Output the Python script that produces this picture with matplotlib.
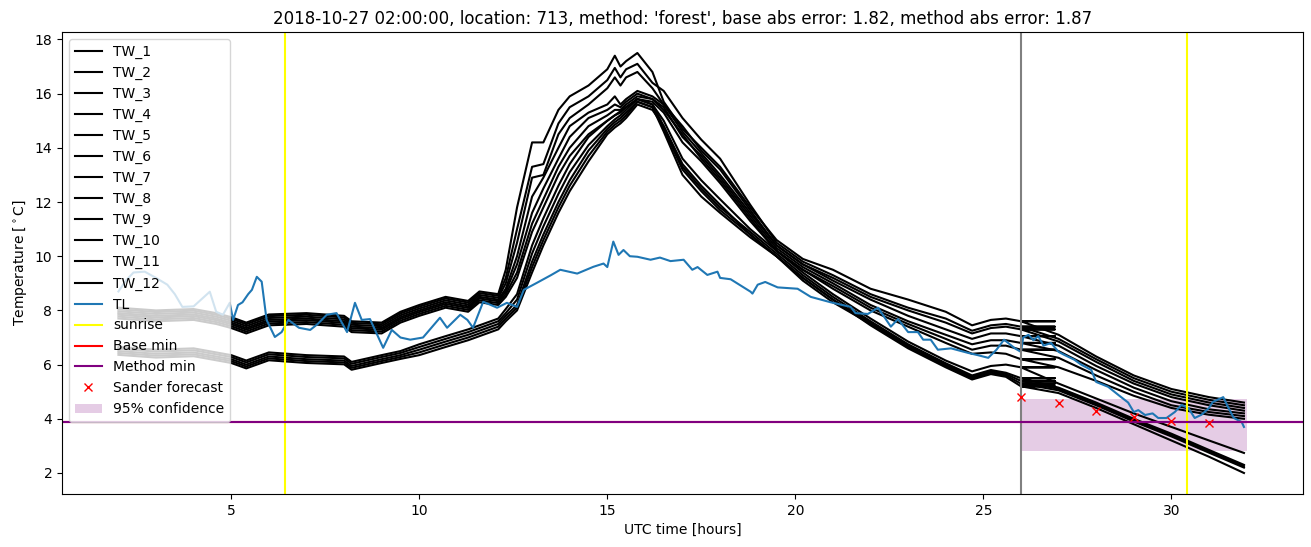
import numpy as np
import matplotlib
matplotlib.use('Agg')
import matplotlib.pyplot as plt

# time grid (hours UTC) for the TW series; the 26 -> 26.9 -> 26 step is the forecast join
tw_hours = [2.0, 3.0, 4.0, 4.6, 5.0, 5.4, 6.0, 7.0, 8.0, 8.2, 9.0, 9.5, 10.0, 10.7, 11.3, 11.6, 12.1, 12.3,
            12.6, 13.0, 13.3, 13.7, 14.0, 14.5, 15.0, 15.2, 15.35, 15.5, 15.8,
            16.2, 16.5, 17.0, 17.5, 18.0, 18.8, 19.5, 20.2, 21.0, 22.0, 23.0, 24.0, 24.7, 25.2, 25.6,
            26.0, 26.9, 26.0, 27.0, 28.0, 29.0, 30.0, 31.0, 31.93]

tw_1 = [8.1, 8.0, 8.05, 7.9, 7.75, 7.55, 7.85, 7.9, 7.8, 7.6, 7.55, 7.95, 8.2, 8.5, 8.35, 8.7, 8.6, 9.5,
        11.8, 14.2, 14.2, 15.4, 15.9, 16.3, 16.9, 17.4, 17.0, 17.2, 17.5,
        16.8, 15.7, 14.7, 14.0, 13.3, 11.8, 10.6, 9.9, 9.5, 8.8, 8.4, 7.95, 7.45, 7.65, 7.7,
        7.6, 7.6, 7.6, 7.1, 6.3, 5.6, 5.1, 4.8, 4.6]
tw_2 = [8.04, 7.94, 7.99, 7.84, 7.69, 7.49, 7.79, 7.84, 7.74, 7.54, 7.49, 7.89, 8.14, 8.44, 8.29, 8.64, 8.54, 9.2,
        11.0, 13.3, 13.4, 14.9, 15.5, 15.9, 16.5, 16.95, 16.6, 16.9, 17.1,
        16.4, 16.1, 15.1, 14.3, 13.6, 11.9, 10.5, 9.8, 9.3, 8.6, 8.1, 7.7, 7.25, 7.45, 7.5,
        7.4, 7.4, 7.4, 6.95, 6.2, 5.5, 5.0, 4.7, 4.5]
tw_3 = [7.97, 7.87, 7.92, 7.77, 7.62, 7.42, 7.72, 7.77, 7.67, 7.47, 7.42, 7.82, 8.07, 8.37, 8.22, 8.57, 8.47, 9.0,
        10.5, 12.9, 13.0, 14.5, 15.1, 15.6, 16.2, 16.6, 16.3, 16.6, 16.8,
        16.2, 15.6, 14.8, 13.9, 13.2, 11.7, 10.4, 9.7, 9.2, 8.5, 8.0, 7.55, 7.15, 7.35, 7.4,
        7.3, 7.3, 7.3, 6.85, 6.1, 5.4, 4.9, 4.6, 4.4]
tw_4 = [7.9, 7.8, 7.85, 7.7, 7.55, 7.35, 7.65, 7.7, 7.6, 7.4, 7.35, 7.75, 8.0, 8.3, 8.15, 8.5, 8.4, 8.8,
        10.0, 12.2, 12.9, 14.0, 14.8, 15.3, 15.6, 15.9, 15.6, 15.8, 16.1,
        15.9, 15.6, 14.6, 13.8, 13.0, 11.6, 10.4, 9.7, 9.1, 8.4, 7.8, 7.3, 6.95, 7.15, 7.15,
        7.05, 7.05, 7.05, 6.7, 5.95, 5.3, 4.8, 4.5, 4.3]
tw_5 = [7.84, 7.74, 7.79, 7.64, 7.49, 7.29, 7.59, 7.64, 7.54, 7.34, 7.29, 7.69, 7.94, 8.24, 8.09, 8.44, 8.34, 8.7,
        9.7, 11.6, 12.5, 13.6, 14.4, 15.1, 15.4, 15.6, 15.5, 15.7, 16.0,
        15.8, 15.5, 14.4, 13.7, 12.9, 11.5, 10.3, 9.6, 9.0, 8.2, 7.6, 7.1, 6.75, 6.9, 6.9,
        6.8, 6.8, 6.8, 6.5, 5.8, 5.15, 4.65, 4.35, 4.2]
tw_6 = [7.77, 7.67, 7.72, 7.57, 7.42, 7.22, 7.52, 7.57, 7.47, 7.27, 7.22, 7.62, 7.87, 8.17, 8.02, 8.37, 8.27, 8.6,
        9.4, 11.2, 12.1, 13.3, 14.0, 14.8, 15.2, 15.4, 15.4, 15.6, 15.9,
        15.8, 15.4, 14.5, 13.6, 12.8, 11.4, 10.2, 9.5, 8.9, 8.1, 7.5, 6.95, 6.55, 6.7, 6.7,
        6.55, 6.55, 6.55, 6.25, 5.6, 5.0, 4.5, 4.25, 4.1]
tw_7 = [7.7, 7.6, 7.65, 7.5, 7.35, 7.15, 7.45, 7.5, 7.4, 7.2, 7.15, 7.55, 7.8, 8.1, 7.95, 8.3, 8.2, 8.5,
        9.2, 10.9, 11.8, 13.0, 13.7, 14.5, 15.0, 15.2, 15.3, 15.5, 15.8,
        15.7, 15.3, 14.2, 13.5, 12.7, 11.3, 10.2, 9.5, 8.8, 8.0, 7.4, 6.8, 6.4, 6.45, 6.4,
        6.2, 6.2, 6.2, 5.9, 5.4, 4.85, 4.4, 4.15, 4.0]
tw_8 = [6.65, 6.55, 6.6, 6.45, 6.35, 6.15, 6.45, 6.35, 6.3, 6.1, 6.35, 6.5, 6.75, 7.05, 7.3, 7.45, 7.7, 8.05,
        8.6, 10.4, 11.4, 12.6, 13.4, 14.4, 15.0, 15.2, 15.35, 15.5, 15.8,
        15.6, 15.0, 13.6, 12.8, 12.1, 11.0, 10.2, 9.4, 8.6, 7.7, 6.85, 6.15, 5.75, 5.95, 6.0,
        5.9, 5.9, 5.9, 5.3, 4.75, 4.2, 3.7, 3.2, 2.74]
tw_9 = [6.58, 6.48, 6.53, 6.38, 6.28, 6.08, 6.38, 6.28, 6.23, 6.03, 6.28, 6.43, 6.65, 6.95, 7.2, 7.35, 7.6, 7.9,
        8.4, 10.1, 11.1, 12.3, 13.1, 14.1, 14.8, 15.05, 15.2, 15.4, 15.8,
        15.6, 14.8, 13.3, 12.5, 11.8, 10.9, 10.1, 9.3, 8.5, 7.6, 6.75, 6.05, 5.6, 5.8, 5.7,
        5.5, 5.5, 5.5, 5.15, 4.6, 4.0, 3.45, 2.85, 2.3]
tw_10 = [6.5, 6.4, 6.45, 6.3, 6.2, 6.0, 6.3, 6.2, 6.15, 5.95, 6.2, 6.35, 6.55, 6.85, 7.1, 7.25, 7.5, 7.8,
         8.2, 9.8, 10.8, 12.0, 12.8, 13.9, 14.7, 14.95, 15.1, 15.3, 15.7,
         15.5, 14.7, 13.2, 12.4, 11.7, 10.8, 10.0, 9.2, 8.4, 7.55, 6.7, 6.0, 5.55, 5.75, 5.65,
         5.4, 5.4, 5.4, 5.1, 4.55, 3.95, 3.4, 2.8, 2.25]
tw_11 = [6.43, 6.33, 6.38, 6.23, 6.13, 5.93, 6.23, 6.13, 6.08, 5.88, 6.13, 6.28, 6.45, 6.75, 7.0, 7.15, 7.4, 7.7,
         8.1, 9.6, 10.6, 11.8, 12.6, 13.7, 14.6, 14.85, 15.0, 15.2, 15.7,
         15.5, 14.6, 13.0, 12.2, 11.6, 10.7, 10.0, 9.1, 8.3, 7.5, 6.65, 5.95, 5.5, 5.7, 5.6,
         5.3, 5.3, 5.3, 5.05, 4.5, 3.9, 3.35, 2.75, 2.2]
tw_12 = [6.36, 6.26, 6.31, 6.16, 6.06, 5.86, 6.16, 6.06, 6.01, 5.81, 6.06, 6.21, 6.35, 6.65, 6.9, 7.05, 7.3, 7.6,
         8.0, 9.4, 10.4, 11.6, 12.4, 13.5, 14.5, 14.75, 14.9, 15.1, 15.6,
         15.4, 14.8, 13.4, 12.6, 11.9, 10.8, 10.0, 9.2, 8.4, 7.45, 6.6, 5.9, 5.45, 5.65, 5.55,
         5.2, 5.2, 5.2, 4.95, 4.4, 3.8, 3.2, 2.6, 2.0]

tl_hours = [2.0, 2.2, 2.4, 2.7, 3.0, 3.3, 3.5, 3.7, 4.0, 4.2, 4.43, 4.6, 4.78, 4.96, 5.05, 5.18, 5.3, 5.45,
            5.55, 5.68, 5.81, 5.94, 6.16, 6.34, 6.52, 6.8, 7.1, 7.3, 7.54, 7.8, 8.08, 8.29, 8.47, 8.69,
            9.04, 9.27, 9.5, 9.76, 10.1, 10.55, 10.74, 11.09, 11.28, 11.43, 11.7, 12.07, 12.33, 12.6,
            12.78, 13.13, 13.5, 13.75, 14.2, 14.63, 14.9, 15.0, 15.16, 15.3, 15.43, 15.6, 15.8, 16.15,
            16.4, 16.68, 17.03, 17.26, 17.4, 17.66, 17.93, 18.0, 18.28, 18.81, 18.86, 19.0, 19.2, 19.53,
            20.06, 20.41, 20.94, 21.47, 21.6, 21.93, 22.2, 22.54, 22.73, 23.0, 23.26, 23.4, 23.6, 23.79,
            24.14, 24.6, 24.85, 25.13, 25.35, 25.55, 25.84, 26.0, 26.06, 26.2, 26.33, 26.46, 26.6, 26.8,
            27.0, 27.15, 27.42, 27.6, 27.87, 28.0, 28.32, 28.59, 28.85, 29.0, 29.12, 29.3, 29.5, 29.65,
            29.87, 30.09, 30.27, 30.45, 30.62, 30.8, 31.0, 31.1, 31.38, 31.5, 31.66, 31.87, 31.93]
tl_temp = [8.7, 9.1, 9.4, 9.43, 9.2, 8.95, 8.6, 8.13, 8.15, 8.4, 8.69, 7.95, 7.84, 8.28, 7.65, 8.2, 8.3, 8.6,
           8.76, 9.24, 9.06, 7.65, 7.02, 7.2, 7.65, 7.36, 7.28, 7.5, 7.84, 7.9, 7.2, 8.28, 7.65, 7.68,
           6.62, 7.28, 7.0, 6.92, 7.0, 7.73, 7.36, 7.84, 7.65, 7.36, 8.32, 8.1, 8.28, 8.13,
           8.76, 9.02, 9.3, 9.5, 9.36, 9.61, 9.73, 9.6, 10.54, 10.05, 10.23, 10.0, 9.98, 9.87,
           9.95, 9.82, 9.87, 9.5, 9.6, 9.31, 9.43, 9.2, 9.15, 8.69, 8.62, 8.95, 9.05, 8.85,
           8.8, 8.5, 8.3, 8.13, 7.9, 7.87, 8.1, 7.4, 7.68, 7.2, 7.2, 6.92, 6.92, 6.55,
           6.6, 6.43, 6.35, 6.25, 6.55, 6.92, 6.6, 6.47, 7.0, 7.1, 6.9, 7.05, 6.7, 6.8,
           6.47, 6.36, 6.18, 6.0, 5.8, 5.36, 5.18, 4.88, 4.6, 4.25, 4.32, 4.14, 4.2, 4.03,
           4.03, 4.25, 4.51, 4.4, 4.03, 4.15, 4.4, 4.62, 4.8, 4.45, 4.03, 3.88, 3.7]

sunrise_hours = [6.43, 30.42]
forecast_start = 26.0
base_min = 3.87
method_min = 3.88

sander_hours = [26, 27, 28, 29, 30, 31]
sander_temp = [4.8, 4.6, 4.3, 4.07, 3.92, 3.84]

conf_hours = [26.0, 32.0]
conf_low = [2.8, 2.8]
conf_high = [4.72, 4.72]

tw_series = [tw_1, tw_2, tw_3, tw_4, tw_5, tw_6, tw_7, tw_8, tw_9, tw_10, tw_11, tw_12]

fig, ax = plt.subplots(figsize=(13.11, 5.47), dpi=100)
fig.subplots_adjust(left=0.0473, right=0.9939, bottom=0.0969, top=0.9415)

for i, tw in enumerate(tw_series):
    ax.plot(tw_hours, tw, color='black', label='TW_%d' % (i + 1))
ax.plot(tl_hours, tl_temp, color='C0', label='TL')

ax.axvline(sunrise_hours[0], color='yellow', label='sunrise')
ax.axvline(sunrise_hours[1], color='yellow')
ax.axvline(forecast_start, color='grey')
ax.axhline(base_min, color='red', label='Base min')
ax.axhline(method_min, color='purple', label='Method min')
ax.plot(sander_hours, sander_temp, 'x', color='red', label='Sander forecast')
ax.fill_between(conf_hours, conf_low, conf_high, color='purple', alpha=0.2, linewidth=0,
                label='95% confidence')

ax.set_xlabel('UTC time [hours]')
ax.set_ylabel(r'Temperature [$^\circ$C]')
ax.set_title("2018-10-27 02:00:00, location: 713, method: 'forest', base abs error: 1.82, method abs error: 1.87")
ax.legend(loc='upper left')

plt.savefig('out.png')
